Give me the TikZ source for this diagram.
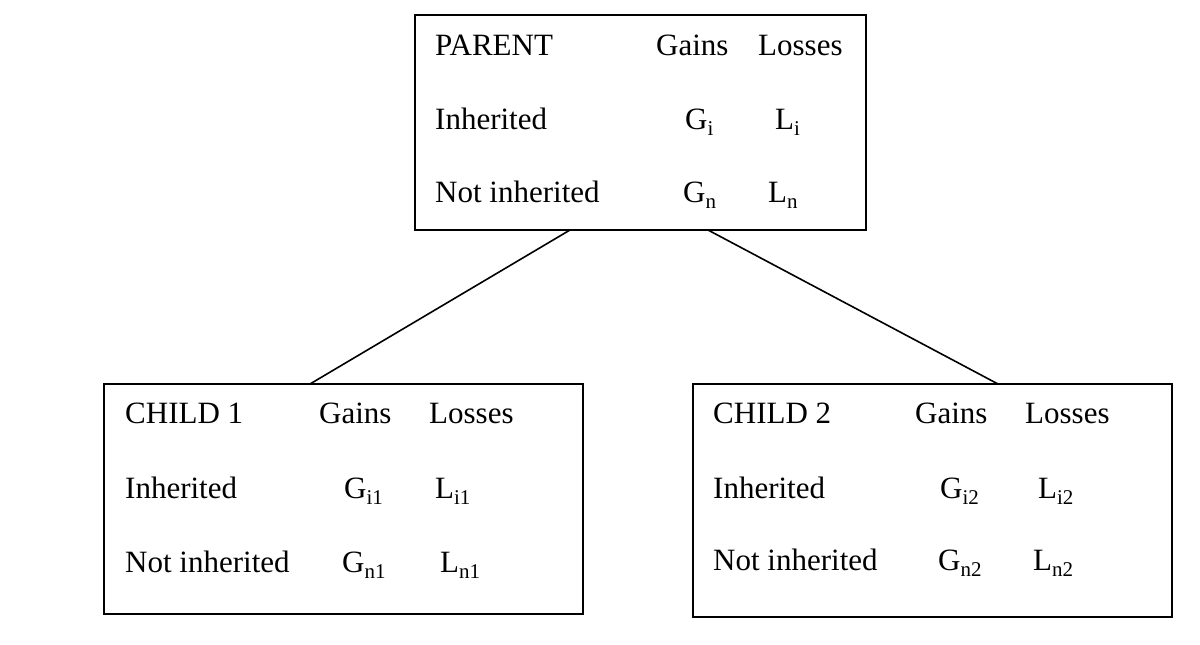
\documentclass[tikz,border=0pt]{standalone}
\usepackage{fontspec}
\setmainfont{Liberation Serif}
\usetikzlibrary{calc}
\newcommand\sbs[1]{\raisebox{-6pt}{\fontsize{21}{21}\selectfont #1}}
\begin{document}
\begin{tikzpicture}[x=1pt,y=1pt,
  box/.style={draw, line width=1.6pt, inner sep=0pt, outer sep=0pt, anchor=north west},
  lbl/.style={anchor=base west, inner sep=0pt, font=\fontsize{31}{36}\selectfont},
  link/.style={line width=1.6pt}]
\useasboundingbox (0,0) rectangle (1200,-645);
% boxes
\node[box, minimum width=451, minimum height=215] (parent) at (415,-15) {};
\node[box, minimum width=479, minimum height=230] (child1) at (104,-384) {};
\node[box, minimum width=479, minimum height=233] (child2) at (693,-384) {};
% parent texts
\node[lbl] (pt) at (435,-55) {PARENT};
\node[lbl] (pg) at (656,-55) {Gains};
\node[lbl] (pl) at (758,-55) {Losses};
\node[lbl] (pi) at (435,-129) {Inherited};
\node[lbl] (pgi) at (685,-129) {G\sbs{i}};
\node[lbl] (pli) at (775,-129) {L\sbs{i}};
\node[lbl] (pn) at (435,-202) {Not inherited};
\node[lbl] (pgn) at (683,-202) {G\sbs{n}};
\node[lbl] (pln) at (768,-202) {L\sbs{n}};
% child 1 texts
\node[lbl] (at) at (125,-423) {CHILD 1};
\node[lbl] (ag) at (319,-423) {Gains};
\node[lbl] (al) at (429,-423) {Losses};
\node[lbl] (ai) at (125,-498) {Inherited};
\node[lbl] (agi) at (344,-498) {G\sbs{i1}};
\node[lbl] (ali) at (435,-498) {L\sbs{i1}};
\node[lbl] (an) at (125,-572) {Not inherited};
\node[lbl] (agn) at (342,-572) {G\sbs{n1}};
\node[lbl] (aln) at (440,-572) {L\sbs{n1}};
% child 2 texts
\node[lbl] (bt) at (713,-423) {CHILD 2};
\node[lbl] (bg) at (915,-423) {Gains};
\node[lbl] (bl) at (1025,-423) {Losses};
\node[lbl] (bi) at (713,-498) {Inherited};
\node[lbl] (bgi) at (940,-498) {G\sbs{i2}};
\node[lbl] (bli) at (1038,-498) {L\sbs{i2}};
\node[lbl] (bn) at (713,-570) {Not inherited};
\node[lbl] (bgn) at (938,-570) {G\sbs{n2}};
\node[lbl] (bln) at (1033,-570) {L\sbs{n2}};
% connectors
\draw[link] ($(parent.south west)+(155,0)$) -- ($(child1.north west)+(206,0)$);
\draw[link] ($(parent.south west)+(293,0)$) -- ($(child2.north west)+(305,0)$);
\end{tikzpicture}
\end{document}
